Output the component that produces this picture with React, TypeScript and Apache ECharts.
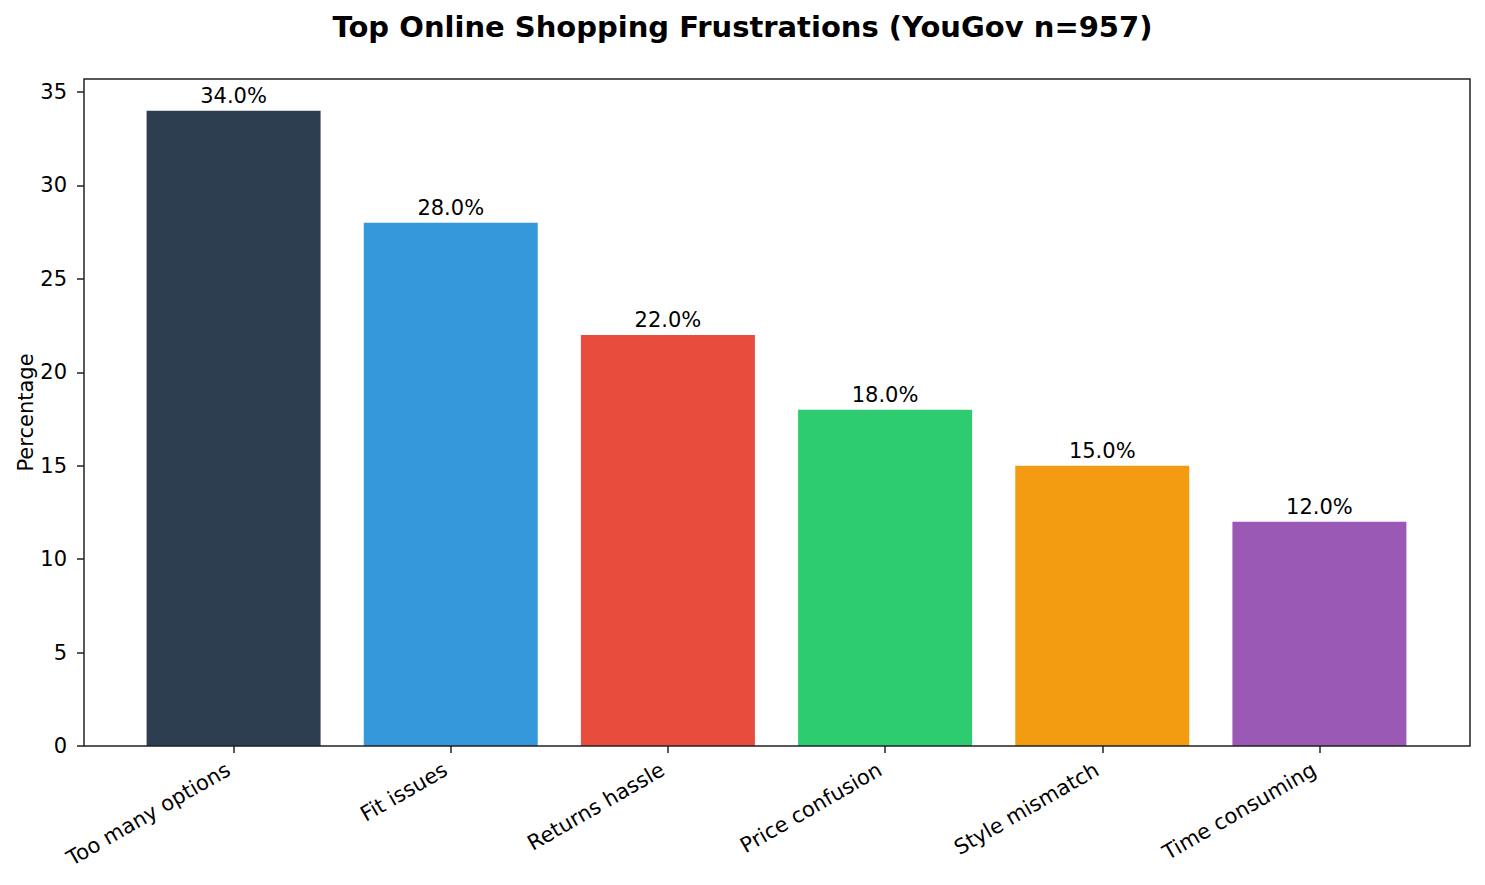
import { useEffect, useRef } from "react";
import * as echarts from "echarts";

const categories = [
  "Too many options",
  "Fit issues",
  "Returns hassle",
  "Price confusion",
  "Style mismatch",
  "Time consuming",
];
const percentages = [34, 28, 22, 18, 15, 12];
const barColors = ["#2c3e50", "#3498db", "#e74c3c", "#2ecc71", "#f39c12", "#9b59b6"];

const FONT = "DejaVu Sans";

export default function App() {
  const chartRef = useRef<HTMLDivElement>(null);

  useEffect(() => {
    document.body.style.margin = "0";
    if (!chartRef.current) return;
    const chart = echarts.init(chartRef.current, undefined, { renderer: "svg" });

    chart.setOption({
      animation: false,
      backgroundColor: "#ffffff",
      title: {
        text: "Top Online Shopping Frustrations (YouGov n=957)",
        left: "center",
        top: 7,
        textStyle: { fontFamily: FONT, fontSize: 29, fontWeight: "bold", color: "#000" },
      },
      grid: { left: 125, right: 57, top: 79, bottom: 139 },
      xAxis: {
        type: "category",
        data: categories,
        axisLine: { show: false },
        axisTick: { show: true, alignWithLabel: true, length: 7, lineStyle: { color: "#222", width: 1.5 } },
        axisLabel: {
          rotate: 30,
          fontFamily: FONT,
          fontSize: 21,
          color: "#000",
          margin: 19,
          padding: [0, 6, 0, 0],
        },
      },
      yAxis: {
        type: "value",
        min: 0,
        max: 35.7,
        interval: 5,
        offset: 41,
        name: "Percentage",
        nameLocation: "middle",
        nameGap: 48,
        nameMoveOverlap: false,
        nameTextStyle: { fontFamily: FONT, fontSize: 21, color: "#000" },
        axisLine: { show: false },
        axisTick: { show: true, length: 7, lineStyle: { color: "#222", width: 1.5 } },
        axisLabel: { showMaxLabel: false, fontFamily: FONT, fontSize: 21, color: "#000", margin: 17 },
        splitLine: { show: false },
      },
      graphic: [
        {
          type: "rect",
          shape: { x: 84, y: 79, width: 1386, height: 667 },
          style: { fill: "none", stroke: "#222", lineWidth: 1.5 },
          z: 100,
        },
        {
          type: "rect",
          shape: { x: 74, y: 76, width: 9, height: 3 },
          style: { fill: "#fff" },
          z: 101,
        },
      ],
      series: [
        {
          type: "bar",
          barWidth: 174,
          data: percentages.map((v, i) => ({ value: v, itemStyle: { color: barColors[i] } })),
          label: {
            show: true,
            position: "top",
            distance: 4,
            fontFamily: FONT,
            fontSize: 21,
            color: "#000",
            formatter: (p: any) => `${Number(p.value).toFixed(1)}%`,
          },
        },
      ],
    });

    return () => chart.dispose();
  }, []);

  return <div ref={chartRef} style={{ width: 1485, height: 885 }} />;
}
